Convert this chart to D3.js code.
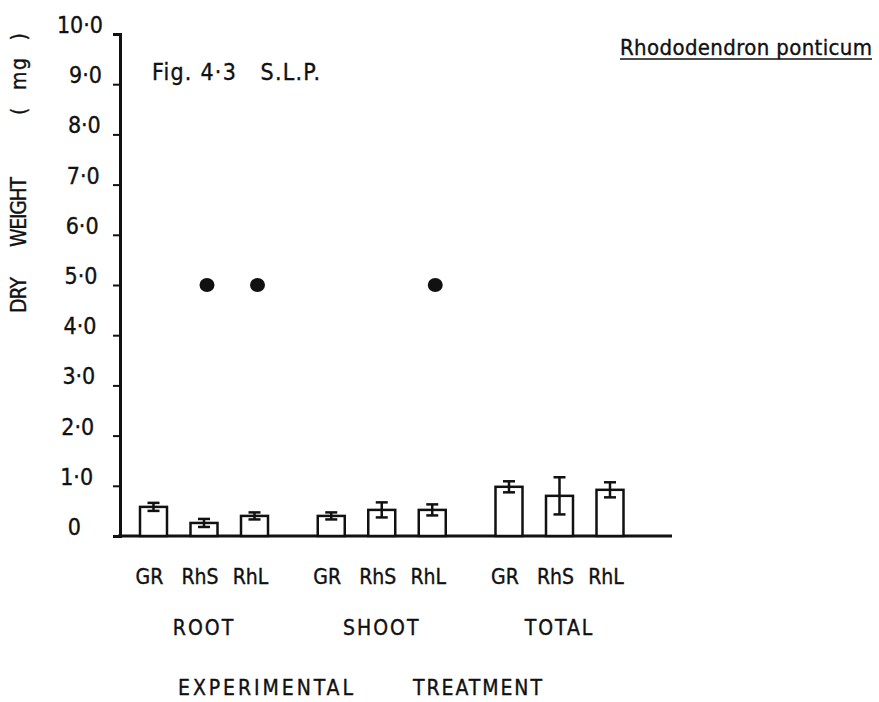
<!DOCTYPE html>
<html>
<head>
<meta charset="utf-8">
<script src="https://cdn.jsdelivr.net/npm/d3@7"></script>
<style>
  body { margin: 0; background: #fff; }
  svg text { font-family: "DejaVu Sans Condensed", "DejaVu Sans", sans-serif; fill: #111; stroke: #111; stroke-width: 0.35; }
</style>
</head>
<body>
<div id="chart"></div>
<script>
// data
const groups = ["ROOT", "SHOOT", "TOTAL"];
const treatments = ["GR", "RhS", "RhL"];
const rootMean = [0.58, 0.26, 0.40];
const rootErr = [0.08, 0.08, 0.07];
const shootMean = [0.40, 0.52, 0.52];
const shootErr = [0.07, 0.15, 0.11];
const totalMean = [0.98, 0.80, 0.92];
const totalErr = [0.11, 0.37, 0.15];
// significance dots (group, treatment, value)
const markGroup = ["ROOT", "ROOT", "SHOOT"];
const markTreat = ["RhS", "RhL", "RhL"];
const markValue = [5.0, 5.0, 5.0];
const yTicks = [0, 1, 2, 3, 4, 5, 6, 7, 8, 9, 10];
const yTickLabels = ["0", "1·0", "2·0", "3·0", "4·0", "5·0", "6·0", "7·0", "8·0", "9·0", "10·0"];

const width = 879, height = 702;
const margin = { top: 34, right: 207, bottom: 166, left: 120 };

const means = [rootMean, shootMean, totalMean];
const errs = [rootErr, shootErr, totalErr];
const bars = [];
groups.forEach((g, i) => treatments.forEach((t, j) => {
  bars.push({ group: g, treat: t, value: means[i][j], err: errs[i][j] });
}));

const svg = d3.select('#chart').append('svg')
  .attr('width', width)
  .attr('height', height);

const y = d3.scaleLinear()
  .domain([0, 10])
  .range([height - margin.bottom, margin.top]);

const xGroup = d3.scalePoint()
  .domain(groups)
  .range([204, 559.5]);

const xSub = d3.scalePoint()
  .domain(treatments)
  .range([-50.5, 50.5]);

const bx = (g, t) => xGroup(g) + xSub(t);
const barW = 27;

// y axis
const yAxis = d3.axisLeft(y)
  .tickValues(yTicks)
  .tickSize(7)
  .tickFormat(() => '');

const yG = svg.append('g')
  .attr('transform', `translate(${margin.left}, 0)`)
  .call(yAxis);
yG.select('.domain').attr('stroke-width', 3).attr('stroke', '#111');
yG.selectAll('.tick line').attr('stroke-width', 2).attr('stroke', '#111');

// tick labels, hand lettered so slightly slanted with the axis
svg.append('g').selectAll('text')
  .data(yTicks)
  .enter().append('text')
  .attr('x', d => d === 0 ? 81 : 92 + d * 1.1)
  .attr('y', d => y(d) - 1)
  .attr('text-anchor', 'end')
  .attr('font-size', 23)
  .text((d, i) => yTickLabels[i]);

// x baseline
svg.append('line')
  .attr('x1', margin.left - 2)
  .attr('x2', 672)
  .attr('y1', y(0))
  .attr('y2', y(0))
  .attr('stroke', '#111')
  .attr('stroke-width', 3);

// bars
svg.append('g').selectAll('rect')
  .data(bars)
  .enter().append('rect')
  .attr('x', d => bx(d.group, d.treat) - barW / 2)
  .attr('y', d => y(d.value))
  .attr('width', barW)
  .attr('height', d => y(0) - y(d.value))
  .attr('fill', '#fff')
  .attr('stroke', '#111')
  .attr('stroke-width', 2.5);

// error bars
const eb = svg.append('g').attr('stroke', '#111').attr('stroke-width', 2.5);
eb.selectAll('.ev').data(bars).enter().append('line')
  .attr('class', 'ev')
  .attr('x1', d => bx(d.group, d.treat))
  .attr('x2', d => bx(d.group, d.treat))
  .attr('y1', d => y(d.value + d.err))
  .attr('y2', d => y(d.value - d.err));
[1, -1].forEach((s, k) => {
  eb.selectAll('.cap' + k).data(bars).enter().append('line')
    .attr('class', 'cap' + k)
    .attr('x1', d => bx(d.group, d.treat) - 6)
    .attr('x2', d => bx(d.group, d.treat) + 6)
    .attr('y1', d => y(d.value + s * d.err))
    .attr('y2', d => y(d.value + s * d.err));
});

// significance dots
svg.append('g').selectAll('ellipse')
  .data(markValue)
  .enter().append('ellipse')
  .attr('cx', (d, i) => bx(markGroup[i], markTreat[i]) + 3)
  .attr('cy', d => y(d))
  .attr('rx', 7.5)
  .attr('ry', 7)
  .attr('fill', '#111');

// treatment labels
svg.append('g').selectAll('text')
  .data(bars)
  .enter().append('text')
  .attr('x', d => bx(d.group, d.treat) - 4)
  .attr('y', 584)
  .attr('text-anchor', 'middle')
  .attr('font-size', 21)
  .text(d => d.treat);

// group labels
svg.append('g').selectAll('text')
  .data(groups)
  .enter().append('text')
  .attr('x', d => xGroup(d))
  .attr('y', 635)
  .attr('text-anchor', 'middle')
  .attr('font-size', 21)
  .attr('letter-spacing', 2)
  .text(d => d);

// axis titles
svg.append('text')
  .attr('x', 178).attr('y', 695)
  .attr('font-size', 21)
  .attr('textLength', 175)
  .attr('lengthAdjust', 'spacing')
  .text('EXPERIMENTAL');
svg.append('text')
  .attr('x', 413).attr('y', 695)
  .attr('font-size', 21)
  .attr('textLength', 129)
  .attr('lengthAdjust', 'spacing')
  .text('TREATMENT');

const yt = [
  { t: 'DRY', c: 295, w: 36 },
  { t: 'WEIGHT', c: 212, w: 70 },
  { t: '(  mg  )', c: 74, w: 82 }
];
svg.append('g').selectAll('text')
  .data(yt)
  .enter().append('text')
  .attr('transform', d => `translate(26, ${d.c}) rotate(-90)`)
  .attr('text-anchor', 'middle')
  .attr('font-size', 21)
  .attr('textLength', d => d.w)
  .attr('lengthAdjust', 'spacing')
  .style('white-space', 'pre')
  .text(d => d.t);

// figure label
svg.append('text')
  .attr('x', 152).attr('y', 80)
  .attr('font-size', 23)
  .attr('textLength', 168)
  .attr('lengthAdjust', 'spacing')
  .style('white-space', 'pre')
  .text('Fig. 4·3   S.L.P.');

svg.append('text')
  .attr('x', 620).attr('y', 55)
  .attr('font-size', 22)
  .attr('textLength', 252)
  .attr('lengthAdjust', 'spacing')
  .text('Rhododendron ponticum');
svg.append('line')
  .attr('x1', 620).attr('x2', 872)
  .attr('y1', 59).attr('y2', 59)
  .attr('stroke', '#111')
  .attr('stroke-width', 1.5);
</script>
</body>
</html>
